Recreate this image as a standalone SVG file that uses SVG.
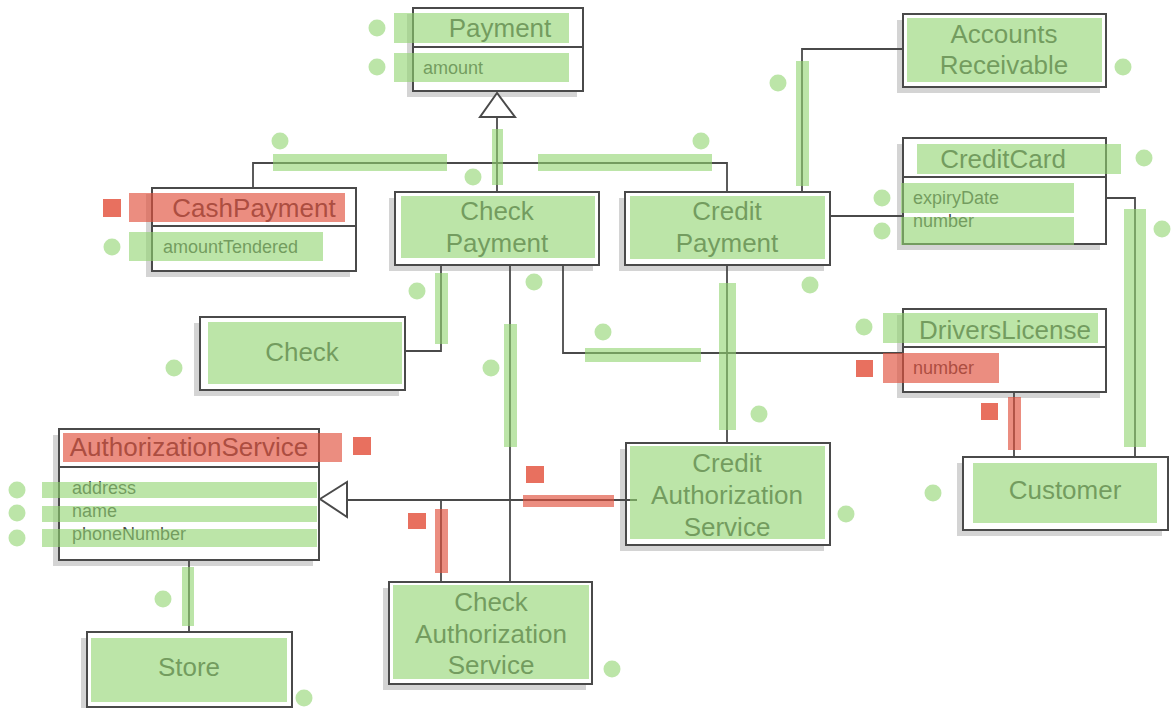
<svg xmlns="http://www.w3.org/2000/svg" width="1171" height="708" viewBox="0 0 1171 708">
<style>
.sh{fill:#d4d4d4}
.bx{fill:#fff;stroke:#4a4a4a;stroke-width:2}
.dv{stroke:#4a4a4a;stroke-width:2}
.t{font-family:"Liberation Sans",Arial,sans-serif;font-size:26px;fill:#4a4a4a;text-anchor:middle}
.a{font-family:"Liberation Sans",Arial,sans-serif;font-size:18px;fill:#4a4a4a}
.c{fill:none;stroke:#4a4a4a;stroke-width:1.8}
.tri{fill:#fff;stroke:#4a4a4a;stroke-width:2}
.g{fill:#8fd46e;opacity:0.6}
.r{fill:#e0503c;opacity:0.65}
.rs{fill:#e8705f}
</style>
<rect width="1171" height="708" fill="#fff"/>
<g id="Payment">
<rect class="sh" x="407" y="14" width="170" height="83"/>
<rect class="bx" x="413" y="8" width="170" height="83"/>
<line class="dv" x1="413" y1="47" x2="583" y2="47"/>
<text class="t" x="500" y="37">Payment</text>
<text class="a" x="423" y="74">amount</text>
</g>
<g id="CashPayment">
<rect class="sh" x="146" y="194" width="204" height="83"/>
<rect class="bx" x="152" y="188" width="204" height="83"/>
<line class="dv" x1="152" y1="226" x2="356" y2="226"/>
<text class="t" x="254" y="217">CashPayment</text>
<text class="a" x="163" y="253">amountTendered</text>
</g>
<g id="CheckPayment">
<rect class="sh" x="389" y="198" width="204" height="73"/>
<rect class="bx" x="395" y="192" width="204" height="73"/>
<text class="t" x="497" y="220">Check</text>
<text class="t" x="497" y="252">Payment</text>
</g>
<g id="CreditPayment">
<rect class="sh" x="619" y="198" width="205" height="73"/>
<rect class="bx" x="625" y="192" width="205" height="73"/>
<text class="t" x="727" y="220">Credit</text>
<text class="t" x="727" y="252">Payment</text>
</g>
<g id="AccountsReceivable">
<rect class="sh" x="897" y="20" width="203" height="73"/>
<rect class="bx" x="903" y="14" width="203" height="73"/>
<text class="t" x="1004" y="43">Accounts</text>
<text class="t" x="1004" y="74">Receivable</text>
</g>
<g id="CreditCard">
<rect class="sh" x="897" y="144" width="203" height="106"/>
<rect class="bx" x="903" y="138" width="203" height="106"/>
<line class="dv" x1="903" y1="177" x2="1106" y2="177"/>
<text class="t" x="1003" y="168">CreditCard</text>
<text class="a" x="913" y="204">expiryDate</text>
<text class="a" x="913" y="227">number</text>
</g>
<g id="DriversLicense">
<rect class="sh" x="897" y="315" width="203" height="83"/>
<rect class="bx" x="903" y="309" width="203" height="83"/>
<line class="dv" x1="903" y1="347" x2="1106" y2="347"/>
<text class="t" x="1005" y="339">DriversLicense</text>
<text class="a" x="913" y="374">number</text>
</g>
<g id="Customer">
<rect class="sh" x="957" y="463" width="205" height="73"/>
<rect class="bx" x="963" y="457" width="205" height="73"/>
<text class="t" x="1065" y="499">Customer</text>
</g>
<g id="Check">
<rect class="sh" x="194" y="323" width="205" height="73"/>
<rect class="bx" x="200" y="317" width="205" height="73"/>
<text class="t" x="302" y="361">Check</text>
</g>
<g id="CreditAuthorizationService">
<rect class="sh" x="620" y="449" width="204" height="102"/>
<rect class="bx" x="626" y="443" width="204" height="102"/>
<text class="t" x="727" y="472">Credit</text>
<text class="t" x="727" y="504">Authorization</text>
<text class="t" x="727" y="536">Service</text>
</g>
<g id="CheckAuthorizationService">
<rect class="sh" x="383" y="588" width="203" height="102"/>
<rect class="bx" x="389" y="582" width="203" height="102"/>
<text class="t" x="491" y="611">Check</text>
<text class="t" x="491" y="643">Authorization</text>
<text class="t" x="491" y="674">Service</text>
</g>
<g id="AuthorizationService">
<rect class="sh" x="53" y="435" width="260" height="131"/>
<rect class="bx" x="59" y="429" width="260" height="131"/>
<line class="dv" x1="59" y1="467" x2="319" y2="467"/>
<text class="t" x="189" y="456">AuthorizationService</text>
<text class="a" x="72" y="494">address</text>
<text class="a" x="72" y="517">name</text>
<text class="a" x="72" y="540">phoneNumber</text>
</g>
<g id="Store">
<rect class="sh" x="81" y="638" width="205" height="75"/>
<rect class="bx" x="87" y="632" width="205" height="75"/>
<text class="t" x="189" y="676">Store</text>
</g>
<g id="connectors">
<polyline class="c" points="253,188 253,163 727,163 727,192"/>
<line class="c" x1="497" y1="117" x2="497" y2="192"/>
<polygon class="tri" points="497,93 480,117 515,117"/>
<polyline class="c" points="802,192 802,49 903,49"/>
<line class="c" x1="830" y1="216" x2="903" y2="216"/>
<polyline class="c" points="1106,198 1135,198 1135,457"/>
<polyline class="c" points="441,265 441,351 405,351"/>
<line class="c" x1="510" y1="265" x2="510" y2="582"/>
<polyline class="c" points="563,265 563,353 903,353"/>
<line class="c" x1="727" y1="265" x2="727" y2="443"/>
<line class="c" x1="1014" y1="392" x2="1014" y2="457"/>
<line class="c" x1="347" y1="500" x2="637" y2="500"/>
<polygon class="tri" points="320,499 347,482 347,517"/>
<line class="c" x1="441" y1="500" x2="441" y2="582"/>
<line class="c" x1="189" y1="560" x2="189" y2="632"/>
</g>
<g id="highlights">
<rect class="g" x="394" y="13" width="175" height="30"/>
<rect class="g" x="394" y="53" width="175" height="29"/>
<rect class="g" x="273" y="154" width="174" height="17"/>
<rect class="g" x="538" y="154" width="174" height="17"/>
<rect class="g" x="492" y="129" width="11" height="56"/>
<rect class="g" x="401" y="196" width="194" height="62"/>
<rect class="g" x="630" y="196" width="195" height="63"/>
<rect class="g" x="907" y="18" width="195" height="64"/>
<rect class="g" x="796" y="61" width="13" height="125"/>
<rect class="g" x="917" y="144" width="204" height="30"/>
<rect class="g" x="901" y="183" width="173" height="30"/>
<rect class="g" x="901" y="217" width="173" height="28"/>
<rect class="g" x="1124" y="209" width="22" height="238"/>
<rect class="g" x="129" y="232" width="194" height="29"/>
<rect class="g" x="208" y="322" width="194" height="62"/>
<rect class="g" x="435" y="273" width="13" height="71"/>
<rect class="g" x="504" y="324" width="13" height="123"/>
<rect class="g" x="585" y="348" width="116" height="14"/>
<rect class="g" x="719" y="283" width="17" height="147"/>
<rect class="g" x="883" y="313" width="215" height="30"/>
<rect class="g" x="973" y="463" width="184" height="60"/>
<rect class="g" x="630" y="446" width="195" height="93"/>
<rect class="g" x="393" y="585" width="196" height="94"/>
<rect class="g" x="42" y="482" width="275" height="16"/>
<rect class="g" x="42" y="506" width="275" height="16"/>
<rect class="g" x="42" y="529" width="275" height="18"/>
<rect class="g" x="182" y="567" width="12" height="59"/>
<rect class="g" x="91" y="638" width="196" height="64"/>
<rect class="r" x="129" y="193" width="216" height="29"/>
<rect class="r" x="883" y="353" width="116" height="30"/>
<rect class="r" x="1008" y="397" width="13" height="53"/>
<rect class="r" x="63" y="433" width="279" height="29"/>
<rect class="r" x="523" y="495" width="91" height="12"/>
<rect class="r" x="435" y="509" width="13" height="64"/>
</g>
<g id="markers">
<circle class="g" cx="377" cy="28" r="8.5"/>
<circle class="g" cx="377" cy="67" r="8.5"/>
<circle class="g" cx="1123" cy="67" r="8.5"/>
<circle class="g" cx="778" cy="83" r="8.5"/>
<circle class="g" cx="280" cy="141" r="8.5"/>
<circle class="g" cx="701" cy="141" r="8.5"/>
<circle class="g" cx="473" cy="177" r="8.5"/>
<circle class="g" cx="1144" cy="158" r="8.5"/>
<circle class="g" cx="112" cy="247" r="8.5"/>
<circle class="g" cx="882" cy="198" r="8.5"/>
<circle class="g" cx="882" cy="231" r="8.5"/>
<circle class="g" cx="1162" cy="229" r="8.5"/>
<circle class="g" cx="417" cy="291" r="8.5"/>
<circle class="g" cx="534" cy="282" r="8.5"/>
<circle class="g" cx="810" cy="285" r="8.5"/>
<circle class="g" cx="603" cy="332" r="8.5"/>
<circle class="g" cx="864" cy="327" r="8.5"/>
<circle class="g" cx="174" cy="368" r="8.5"/>
<circle class="g" cx="491" cy="368" r="8.5"/>
<circle class="g" cx="759" cy="414" r="8.5"/>
<circle class="g" cx="17" cy="490" r="8.5"/>
<circle class="g" cx="17" cy="513" r="8.5"/>
<circle class="g" cx="17" cy="538" r="8.5"/>
<circle class="g" cx="933" cy="493" r="8.5"/>
<circle class="g" cx="846" cy="514" r="8.5"/>
<circle class="g" cx="163" cy="599" r="8.5"/>
<circle class="g" cx="612" cy="669" r="8.5"/>
<circle class="g" cx="304" cy="698" r="8.5"/>
<rect class="rs" x="103" y="199" width="18" height="18"/>
<rect class="rs" x="856" y="360" width="17" height="17"/>
<rect class="rs" x="981" y="403" width="17" height="17"/>
<rect class="rs" x="353" y="437" width="18" height="18"/>
<rect class="rs" x="526" y="466" width="18" height="17"/>
<rect class="rs" x="408" y="513" width="18" height="16"/>
</g>
</svg>
